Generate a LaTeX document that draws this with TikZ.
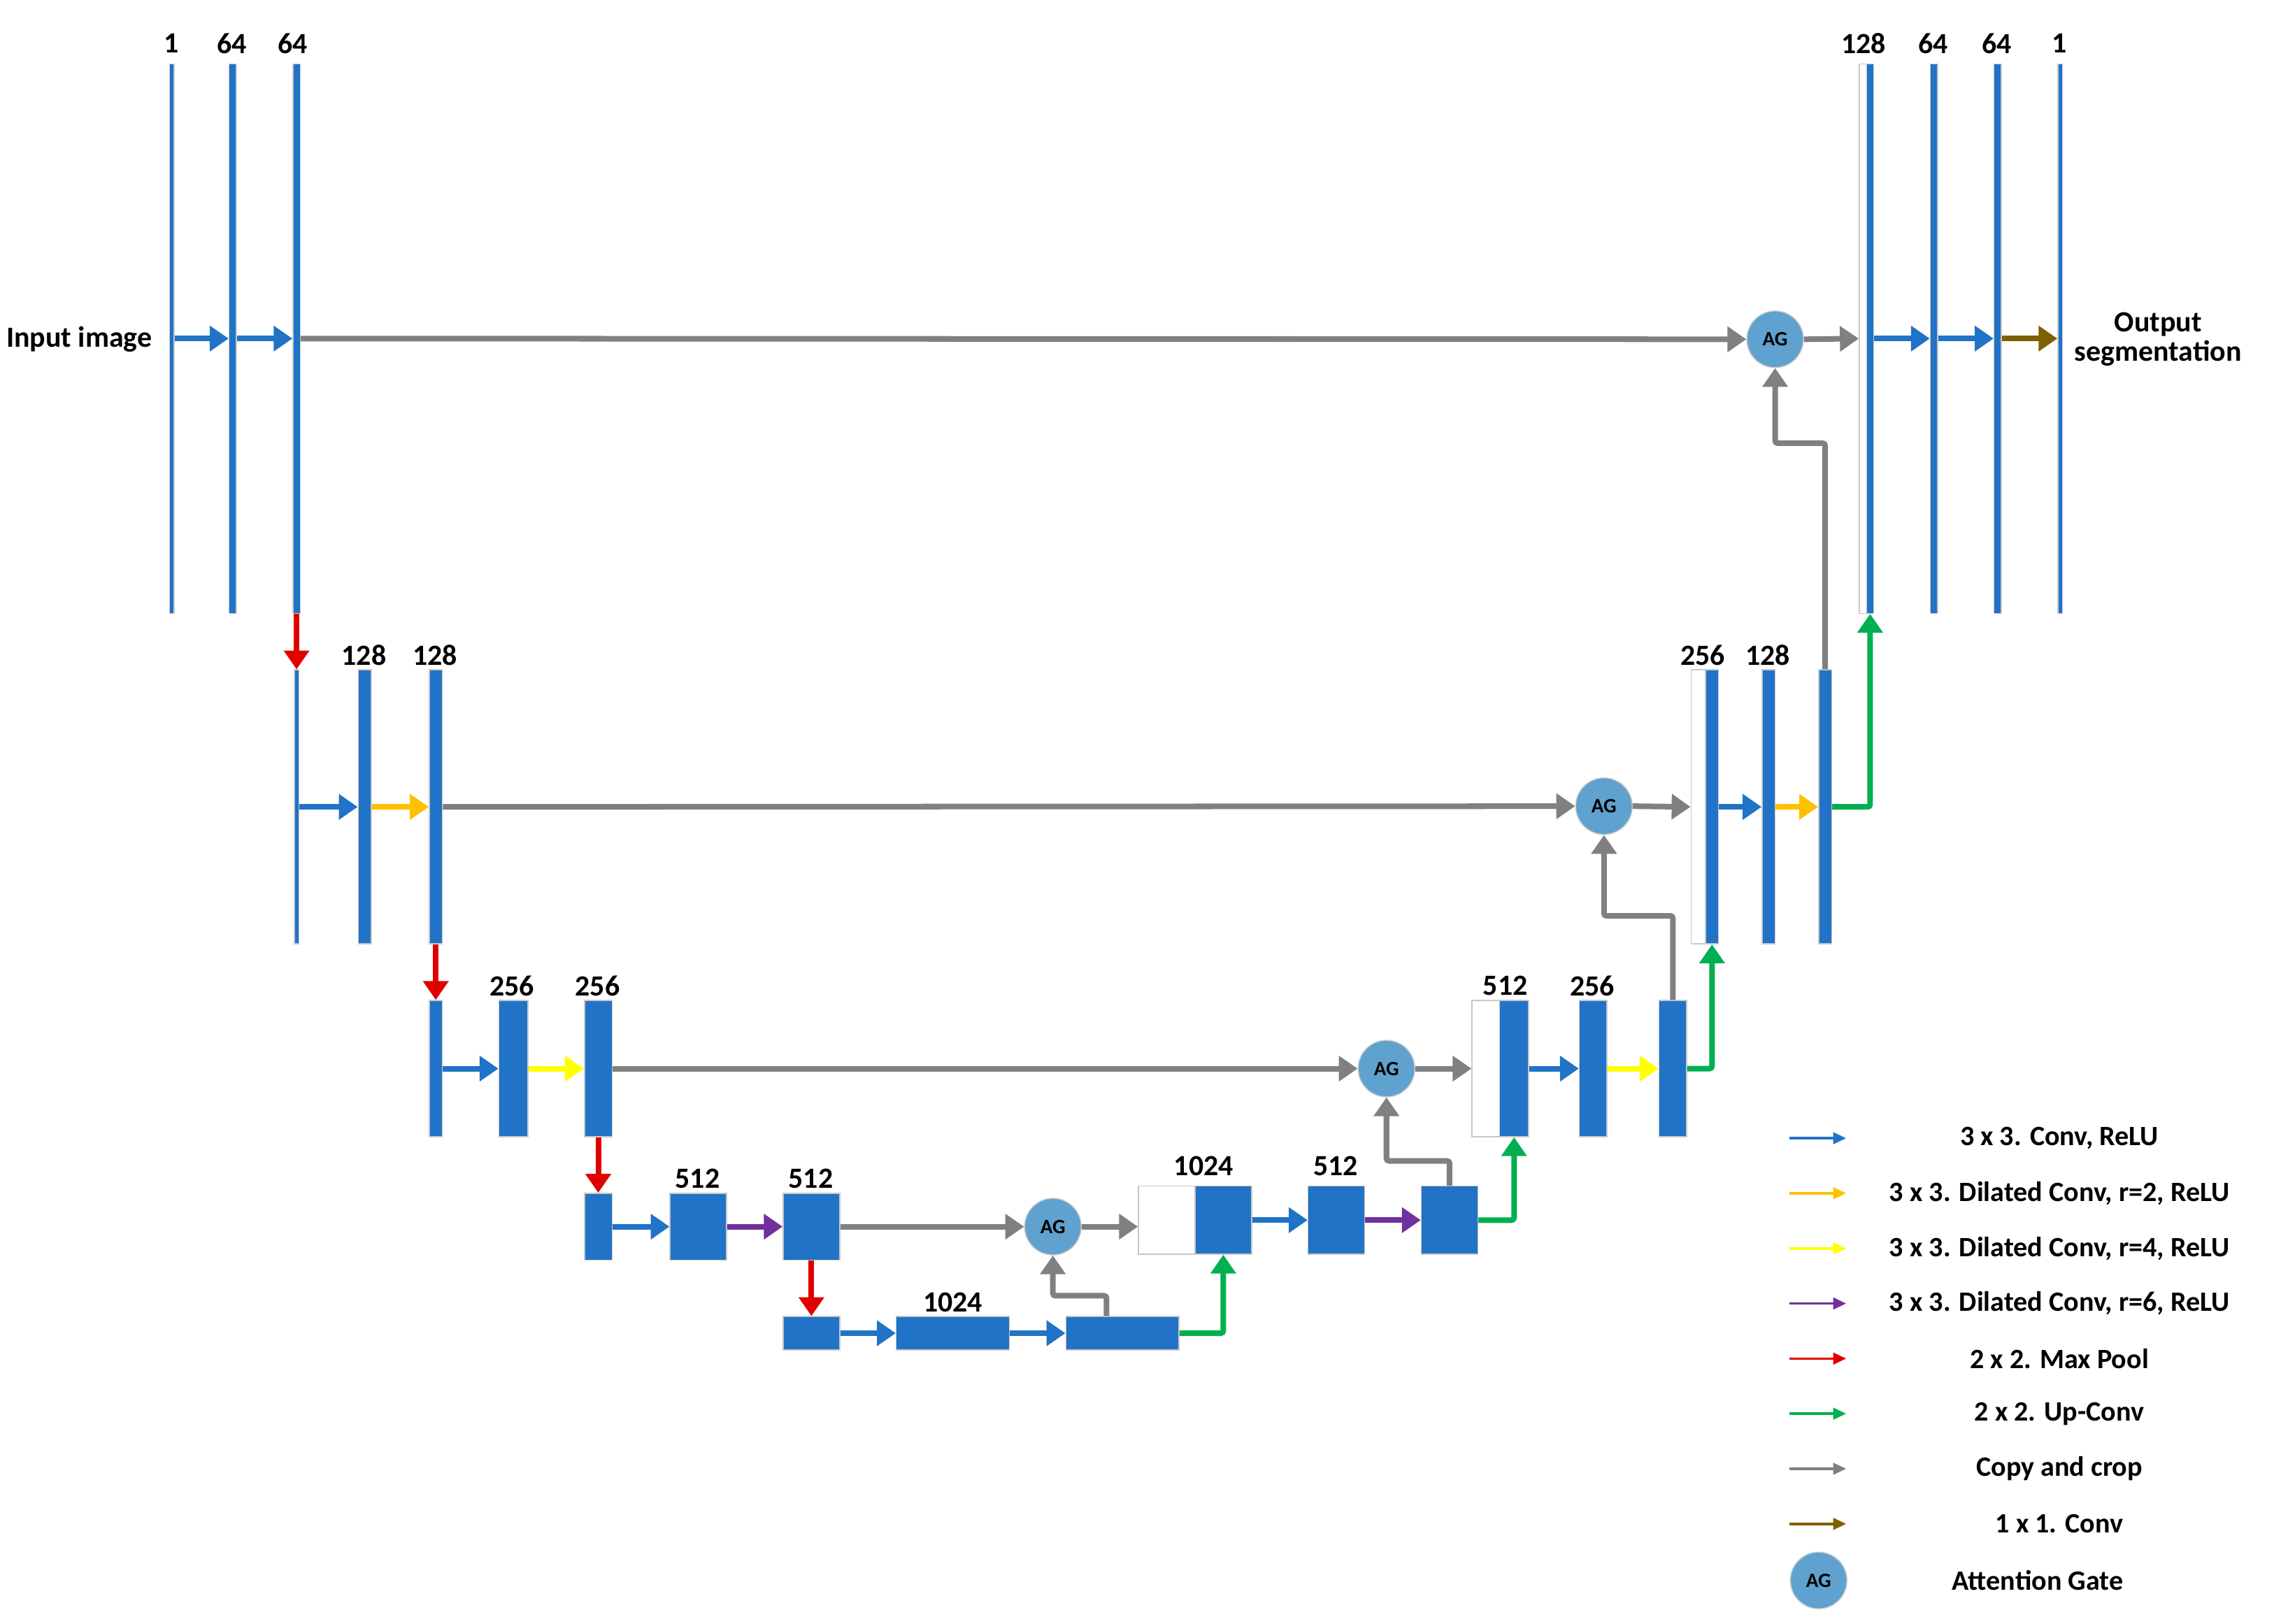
\documentclass[tikz,border=0pt]{standalone}
\usepackage{fontspec}
\setmainfont{Carlito}
\usetikzlibrary{arrows.meta}
\definecolor{cblue}{HTML}{2073C6}
\definecolor{cgray}{HTML}{808080}
\definecolor{cred}{HTML}{E00000}
\definecolor{cgreen}{HTML}{00B050}
\definecolor{corange}{HTML}{FFC000}
\definecolor{cyellow}{HTML}{FFFF00}
\definecolor{cpurple}{HTML}{7030A0}
\definecolor{cbrown}{HTML}{7F6000}
\definecolor{cag}{HTML}{5FA2CF}
\definecolor{cedge}{HTML}{C8C8C8}
\tikzset{
  blk/.style={draw=cedge, fill=cblue, line width=0.4pt, inner sep=0pt},
  cat/.style={draw=cedge, fill=white, line width=0.4pt, inner sep=0pt},
  ag/.style={circle, draw=cedge, fill=cag, minimum size=0.78cm, inner sep=0pt, font=\bfseries\fontsize{8}{9}\selectfont},
  lbl/.style={font=\bfseries\fontsize{11.5}{13}\selectfont},
  leg/.style={font=\bfseries\fontsize{11}{13}\selectfont},
  arr/.style={line width=2.2pt, -{Triangle[length=0.26cm, width=0.34cm]}},
  conv/.style={arr, cblue},
  dil2/.style={arr, corange},
  dil4/.style={arr, cyellow},
  dil6/.style={arr, cpurple},
  pool/.style={arr, cred},
  up/.style={arr, cgreen, rounded corners=1pt},
  copy/.style={arr, cgray, rounded corners=1pt},
  one/.style={arr, cbrown}
}
% block from x1 to x2, y1 to y2 (picture pixels)
\newcommand\blk[6][blk]{\node[#1, minimum width={(#4-#3)*0.02cm}, minimum height={(#6-#5)*0.02cm}] (#2) at ({(#3+#4)/2},{(#5+#6)/2}) {};}
\begin{document}
\begin{tikzpicture}[x=0.02cm, y=-0.02cm]
    \useasboundingbox (0,0) rectangle (1568,1120);

    % Level 1
    \blk{a1}{117}{120}{44}{423}
    \blk{a2}{158}{163}{44}{423}
    \blk{a3}{202}{207}{44}{423}
    \blk[cat]{a4w}{1282}{1287}{44}{423}
    \blk{a4}{1287}{1292}{44}{423}
    \blk{a5}{1331}{1336}{44}{423}
    \blk{a6}{1375}{1380}{44}{423}
    \blk{a7}{1419}{1422}{44}{423}
    \node[lbl] at (118,30) {1};
    \node[lbl] at (160,30) {64};
    \node[lbl] at (202,30) {64};
    \node[lbl] at (1285,30) {128};
    \node[lbl] at (1333,30) {64};
    \node[lbl] at (1377,30) {64};
    \node[lbl] at (1420,30) {1};
    \node[lbl, anchor=east] (inp) at (111,234) {Input image};
    \node[lbl, align=center, font=\bfseries\fontsize{11.5}{11.5}\selectfont] (outp) at (1488,234) {Output\\segmentation};
    \node[ag] (g1) at (1224,234) {AG};

    % Level 2
    \blk{b1}{203}{206}{462}{651}
    \blk{b2}{247}{256}{462}{651}
    \blk{b3}{296}{305}{462}{651}
    \blk[cat]{b4w}{1166}{1176}{462}{651}
    \blk{b4}{1176}{1185}{462}{651}
    \blk{b5}{1215}{1224}{462}{651}
    \blk{b6}{1254}{1263}{462}{651}
    \node[lbl] at (251,452) {128};
    \node[lbl] at (300,452) {128};
    \node[lbl] at (1174,452) {256};
    \node[lbl] at (1219,452) {128};
    \node[ag] (g2) at (1106,556) {AG};

    % Level 3
    \blk{c1}{296}{305}{690}{784}
    \blk{c2}{344}{364}{690}{784}
    \blk{c3}{403}{422}{690}{784}
    \blk[cat]{c4w}{1015}{1034}{690}{784}
    \blk{c4}{1034}{1054}{690}{784}
    \blk{c5}{1089}{1108}{690}{784}
    \blk{c6}{1144}{1163}{690}{784}
    \node[lbl] at (353,680) {256};
    \node[lbl] at (412,680) {256};
    \node[lbl] at (1038,680) {512};
    \node[lbl] at (1098,680) {256};
    \node[ag] (g3) at (956,737) {AG};

    % Level 4
    \blk{d1}{403}{422}{823}{869}
    \blk{d2}{462}{501}{823}{869}
    \blk{d3}{540}{579}{823}{869}
    \node[lbl] at (481,813) {512};
    \node[lbl] at (559,813) {512};
    \node[ag] (g4) at (726,846) {AG};
    \blk[cat]{d4w}{785}{824}{818}{865}
    \blk{d4}{824}{863}{818}{865}
    \blk{d5}{902}{941}{818}{865}
    \blk{d6}{980}{1019}{818}{865}
    \node[lbl] at (830,804) {1024};
    \node[lbl] at (921,804) {512};

    % Level 5
    \blk{e1}{540}{579}{908}{931}
    \blk{e2}{618}{696}{908}{931}
    \blk{e3}{735}{813}{908}{931}
    \node[lbl] at (657,898) {1024};

    % Encoder arrows
    \draw[conv] (a1.east) -- (a2.west);
    \draw[conv] (a2.east) -- (a3.west);
    \draw[conv] (b1.east) -- (b2.west);
    \draw[dil2] (b2.east) -- (b3.west);
    \draw[conv] (c1.east) -- (c2.west);
    \draw[dil4] (c2.east) -- (c3.west);
    \draw[conv] (d1.east) -- (d2.west);
    \draw[dil6] (d2.east) -- (d3.west);
    \draw[conv] (e1.east) -- (e2.west);
    \draw[conv] (e2.east) -- (e3.west);

    % Pooling
    \draw[pool] (a3.south) -- (b1.north);
    \draw[pool] (b3.south) -- (c1.north);
    \draw[pool] (c3.south) -- (d1.north);
    \draw[pool] (d3.south) -- (e1.north);

    % Skip connections and gates
    \draw[copy] (a3.east) -- (g1.west);
    \draw[copy] (g1.east) -- (a4w.west);
    \draw[copy] (b3.east) -- (g2.west);
    \draw[copy] (g2.east) -- (b4w.west);
    \draw[copy] (c3.east) -- (g3.west);
    \draw[copy] (g3.east) -- (c4w.west);
    \draw[copy] (d3.east) -- (g4.west);
    \draw[copy] (g4.east) -- (g4.east -| d4w.west);
    \draw[copy] (b6.north) -- ++(0,-156) -| (g1.south);
    \draw[copy] (c6.north) -- ++(0,-58) -| (g2.south);
    \draw[copy] (d6.north) -- ++(0,-17) -| (g3.south);
    \draw[copy] ([xshift=-0.22cm]e3.north) -- ++(0,-14) -| (g4.south);

    % Decoder arrows
    \draw[conv] (a4.east) -- (a5.west);
    \draw[conv] (a5.east) -- (a6.west);
    \draw[one] (a6.east) -- (a7.west);
    \draw[conv] (b4.east) -- (b5.west);
    \draw[dil2] (b5.east) -- (b6.west);
    \draw[conv] (c4.east) -- (c5.west);
    \draw[dil4] (c5.east) -- (c6.west);
    \draw[conv] (d4.east) -- (d5.west);
    \draw[dil6] (d5.east) -- (d6.west);

    % Up-convolutions
    \draw[up] (e3.east) -| (d4.south);
    \draw[up] (d6.east) -| (c4.south);
    \draw[up] (c6.east) -| (b4.south);
    \draw[up] (b6.east) -| (a4.south);

    % Legend
    \foreach \y/\s/\t in {785/conv/{3 x 3. Conv, ReLU},
                          823/dil2/{3 x 3. Dilated Conv, r=2, ReLU},
                          861/dil4/{3 x 3. Dilated Conv, r=4, ReLU},
                          899/dil6/{3 x 3. Dilated Conv, r=6, ReLU},
                          937/pool/{2 x 2. Max Pool},
                          975/up/{2 x 2. Up-Conv},
                          1013/copy/{Copy and crop},
                          1051/one/{1 x 1. Conv}} {
        \coordinate (l\y) at (1234,\y);
        \coordinate (r\y) at (1273,\y);
        \draw[\s, line width=1pt, -{Triangle[length=0.18cm, width=0.16cm]}] (l\y) -- (r\y);
        \node[leg] at (1420,\y) {\t};
    }
    \node[ag] (gl) at (1254,1090) {AG};
    \node[leg] at (1405,1090) {Attention Gate};
\end{tikzpicture}
\end{document}
